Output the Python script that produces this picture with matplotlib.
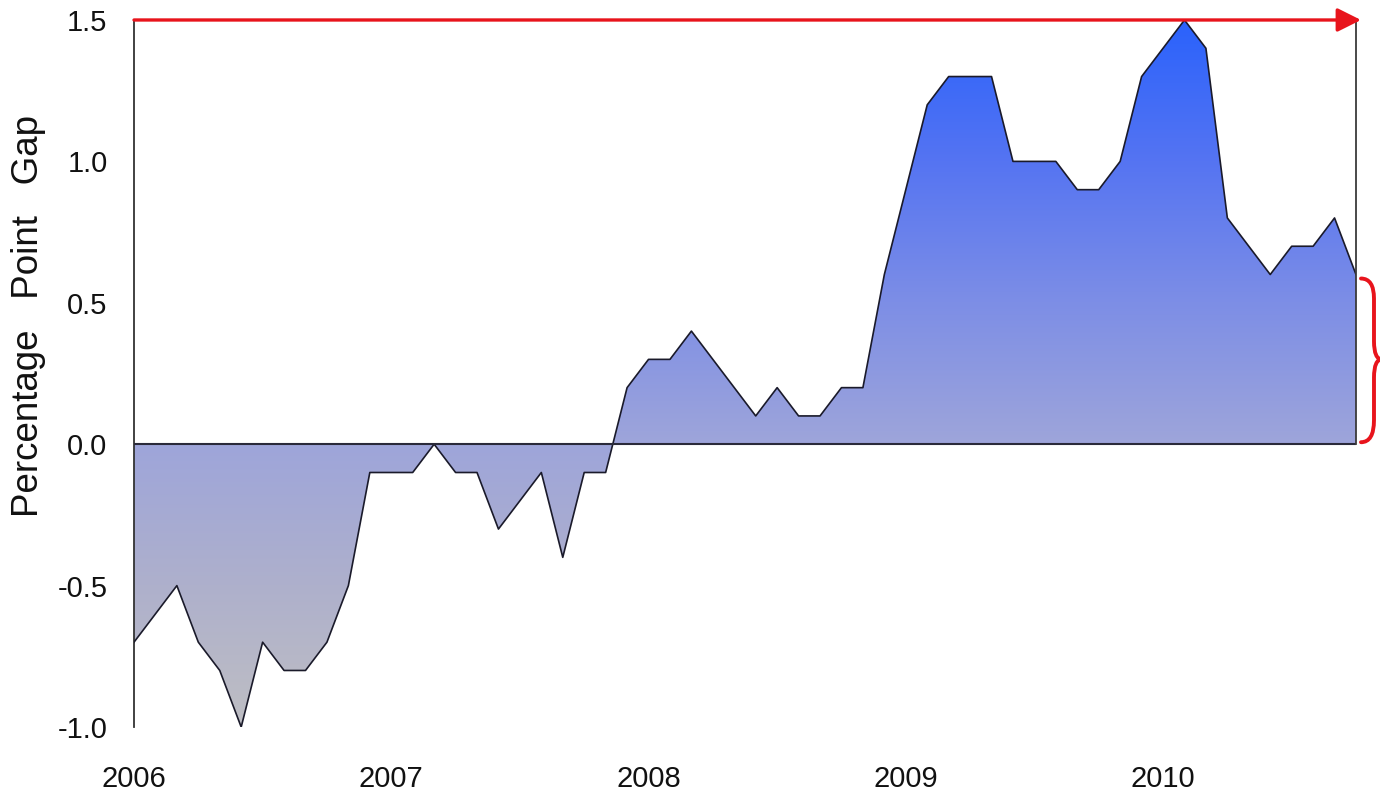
import numpy as np
import matplotlib
matplotlib.use("Agg")
import matplotlib.pyplot as plt
from matplotlib.colors import LinearSegmentedColormap
from matplotlib.path import Path
from matplotlib.patches import PathPatch

# monthly gap, Jan 2006 .. Oct 2010
gap = [-0.7, -0.6, -0.5, -0.7, -0.8, -1.0, -0.7, -0.8, -0.8, -0.7, -0.5, -0.1,
       -0.1, -0.1, 0.0, -0.1, -0.1, -0.3, -0.2, -0.1, -0.4, -0.1, -0.1, 0.2,
       0.3, 0.3, 0.4, 0.3, 0.2, 0.1, 0.2, 0.1, 0.1, 0.2, 0.2, 0.6,
       0.9, 1.2, 1.3, 1.3, 1.3, 1.0, 1.0, 1.0, 0.9, 0.9, 1.0, 1.3,
       1.4, 1.5, 1.4, 0.8, 0.7, 0.6, 0.7, 0.7, 0.8, 0.6]
year_labels = ["2006", "2007", "2008", "2009", "2010"]
y_ticks = [-1.0, -0.5, 0.0, 0.5, 1.0, 1.5]

x = np.arange(len(gap))
y = np.array(gap)
x_end = x[-1]

plt.rcParams['font.family'] = ['Liberation Sans', 'DejaVu Sans']

fig = plt.figure(figsize=(13.8, 7.9), dpi=100)
ax = fig.add_axes([0.0971, 0.0797, 0.8855, 0.895])
ax.set_xlim(0, x_end)
ax.set_ylim(-1.0, 1.5)

# gradient fill, gray at bottom to blue at top
stops = [(0.0, (190/255, 190/255, 195/255)),
         (0.2, (174/255, 176/255, 204/255)),
         (0.4, (158/255, 165/255, 218/255)),
         (0.6, (125/255, 142/255, 230/255)),
         (0.8, (85/255, 116/255, 242/255)),
         (1.0, (42/255, 98/255, 252/255))]
cmap = LinearSegmentedColormap.from_list("gap", stops)
grad = np.linspace(0, 1, 256).reshape(-1, 1)
im = ax.imshow(grad, cmap=cmap, aspect='auto', origin='lower',
               extent=[0, x_end, -1.0, 1.5], zorder=1)
clip = Path(np.vstack([np.column_stack([x, y]), [[x_end, 0], [0, 0]]]))
im.set_clip_path(PathPatch(clip, transform=ax.transData))

ax.plot(x, y, color='#1a1a2a', lw=1.2, zorder=3)
ax.plot([0, x_end], [0, 0], color='#2a2a3a', lw=1.5, zorder=3)
ax.plot([x_end, x_end], [0, 1.5], color='#3a3a3a', lw=1.3, zorder=3, clip_on=False)

for s in ['top', 'right', 'bottom']:
    ax.spines[s].set_visible(False)
ax.spines['left'].set_color('#333333')
ax.spines['left'].set_linewidth(1.3)

ax.set_yticks(y_ticks)
ax.set_yticklabels([f"{v:.1f}" for v in y_ticks])
ax.set_xticks(x[::12])
ax.set_xticklabels(year_labels)
ax.tick_params(axis='both', length=0, labelsize=21, colors='#111111')
ax.tick_params(axis='y', pad=19)
ax.tick_params(axis='x', pad=27)

fig.text(0.021, 1 - 316 / 790, "Percentage   Point   Gap", rotation=90,
         fontsize=26.5, va='center', ha='center', color='#111111')

# red arrow along the top
px_per_x = 0.8855 * 1380 / x_end
px_per_y = 0.895 * 790 / 2.5
ax.annotate("", xy=(x_end + 5 / px_per_x, 1.5), xytext=(0, 1.5),
            arrowprops=dict(arrowstyle='-|>,head_length=0.9,head_width=0.45',
                            mutation_scale=16, color='#e8141c', lw=2.4,
                            shrinkA=0, shrinkB=0),
            annotation_clip=False, zorder=5)

# red brace on the right, from 0 to the last value
def pt(dx, dy_px, base):
    return (x_end + dx / px_per_x, base + dy_px / px_per_y)

top = y[-1]
bot = 0.0
mid = (top + bot) / 2
verts = [pt(5, -4, top), pt(18, -4, top), pt(18, -24, top),
         pt(18, 18, mid), pt(18, 0, mid), pt(26, 0, mid),
         pt(26, 0, mid), pt(18, 0, mid), pt(18, -18, mid),
         pt(18, 24, bot), pt(18, 2, bot), pt(5, 2, bot)]
codes = [Path.MOVETO, Path.CURVE3, Path.CURVE3,
         Path.LINETO, Path.CURVE3, Path.CURVE3,
         Path.MOVETO, Path.CURVE3, Path.CURVE3,
         Path.LINETO, Path.CURVE3, Path.CURVE3]
brace = PathPatch(Path(verts, codes), fill=False, edgecolor='#e8141c', lw=2.8,
                  capstyle='round', clip_on=False, zorder=5)
ax.add_patch(brace)

fig.savefig("out.png", dpi=100)
